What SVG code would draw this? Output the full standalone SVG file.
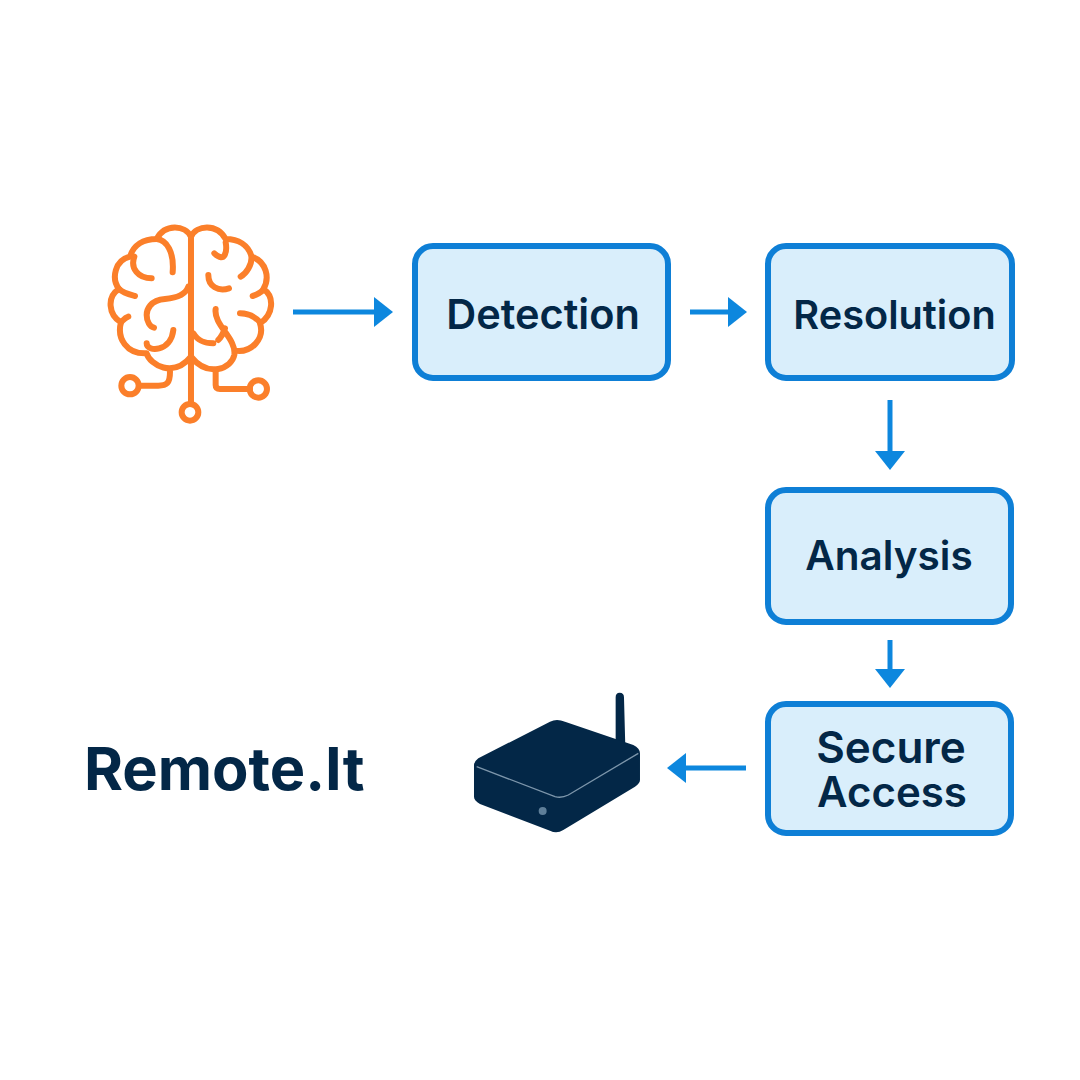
<svg xmlns="http://www.w3.org/2000/svg" width="1080" height="1080" viewBox="0 0 1080 1080">
<defs>
<marker id="arrow" markerUnits="userSpaceOnUse" markerWidth="20" markerHeight="32" refX="1" refY="16" orient="auto"><path d="M0 1L19 16L0 31Z" fill="#0d87de"/></marker>
</defs>
<style>
.box{fill:#d9eefb;stroke:#0e7fd6;stroke-width:6}
.lbl{font-family:Inter,"Liberation Sans",sans-serif;font-weight:600;fill:#032747;text-anchor:middle}
.brain{fill:none;stroke:#fb7f2a;stroke-width:18;stroke-linecap:round;stroke-linejoin:round}
.conn{fill:none;stroke:#0d87de;stroke-width:5;marker-end:url(#arrow)}
</style>
<rect width="1080" height="1080" fill="#ffffff"/>
<g id="brain" class="brain" transform="translate(95 215) scale(.3333)">
<path d="M288 65V565"/>
<circle cx="285" cy="592" r="25"/><circle cx="105" cy="512" r="26"/><circle cx="490" cy="522" r="26"/>
<path d="M288 65C270 30 210 25 185 72C145 72 115 90 105 125C60 135 48 190 72 222C35 245 40 300 78 322C65 370 95 418 155 415C165 450 235 490 288 425"/>
<path d="M185 72C215 75 238 110 233 172M118 125C105 160 130 190 170 190M72 222C85 235 100 238 120 243M78 322C85 315 90 308 100 305M155 385C155 412 228 412 235 345M280 215C270 245 235 250 210 252C165 255 155 285 155 300C155 320 165 335 177 338"/>
<path d="M288 65C305 30 365 25 392 72C430 72 460 90 470 125C515 140 525 190 505 222C540 245 535 300 495 325C510 370 470 415 420 407"/>
<path d="M392 82C397 110 390 145 358 115M470 125C470 150 455 175 437 185M340 180C340 215 370 230 402 220M505 225C495 235 485 240 473 243M495 322C480 305 460 295 435 295M362 282C355 330 425 370 418 420C410 460 340 490 288 425M295 355C310 380 330 385 355 385M390 340C385 355 378 367 370 375"/>
<path d="M225 470C225 505 215 512 190 512H135M362 470V510Q362 522 375 522H465"/>
</g>
<g id="connectors">
<path class="conn" d="M293 312H375"/>
<path class="conn" d="M690 312H729"/>
<path class="conn" d="M890 400V452"/>
<path class="conn" d="M890 640V670"/>
<path class="conn" d="M746 768H685"/>
</g>
<g id="detection"><rect class="box" x="415" y="246" width="253" height="132" rx="18"/><text class="lbl" x="543" y="329" font-size="41.5">Detection</text></g>
<g id="resolution"><rect class="box" x="768" y="246" width="244" height="132" rx="18"/><text class="lbl" x="894.5" y="329" font-size="39.7">Resolution</text></g>
<g id="analysis"><rect class="box" x="768" y="490" width="243" height="132" rx="18"/><text class="lbl" x="889" y="570" font-size="40.5">Analysis</text></g>
<g id="secure-access"><rect class="box" x="768" y="704" width="243" height="129" rx="18"/><text class="lbl" x="891" y="763" font-size="44">Secure</text><text class="lbl" x="892" y="807" font-size="42">Access</text></g>
<g id="router" transform="translate(460 680) scale(.3333)">
<path d="M467 52Q467 38 479 38Q492 38 492 52L496 200L467 190Z" fill="#032747"/>
<path d="M42 255Q42 245 55 235L270 125Q290 115 315 125L520 195Q540 205 540 220V300Q540 310 525 320L310 450Q290 462 270 452L60 372Q42 362 42 350Z" fill="#032747"/>
<path d="M50 260L285 350Q305 355 325 345L535 220" fill="none" stroke="#7d96ab" stroke-width="4"/>
<circle cx="248" cy="393" r="12" fill="#5f7f99"/>
</g>
<g id="remote-it"><text x="84" y="790" font-family="Inter,'Liberation Sans',sans-serif" font-weight="700" font-size="59.5" fill="#032747">Remote.It</text></g>
</svg>
